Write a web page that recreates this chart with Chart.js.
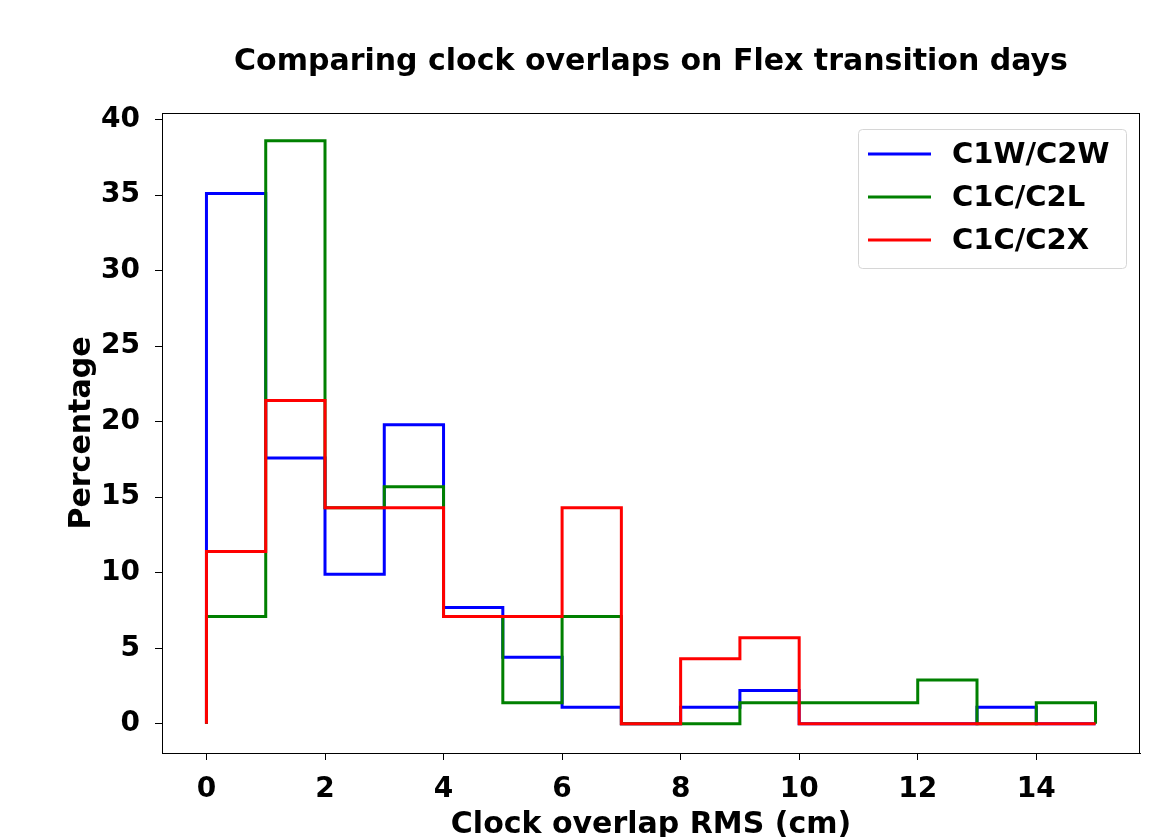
<!DOCTYPE html>
<html lang="en">
<head>
    <meta charset="UTF-8">
    <title>Clock overlaps</title>
    <script src="https://cdn.jsdelivr.net/npm/chart.js"></script>
    <style>
        html, body { margin: 0; padding: 0; background: #fff; }
        #wrap { width: 1170px; height: 837px; }
    </style>
</head>
<body>
    <div id="wrap"><canvas id="histChart" width="1170" height="837"></canvas></div>
    <script>
        // histogram bins (cm), 1 cm wide
        const binEdges = [0, 1, 2, 3, 4, 5, 6, 7, 8, 9, 10, 11, 12, 13, 14, 15];
        // percentage per bin
        const c1wC2w = [35.1, 17.6, 9.9, 19.8, 7.7, 4.4, 1.1, 0, 1.1, 2.2, 0, 0, 0, 1.1, 0];
        const c1cC2l = [7.1, 38.6, 14.3, 15.7, 7.1, 1.4, 7.1, 0, 0, 1.4, 1.4, 1.4, 2.9, 0, 1.4];
        const c1cC2x = [11.4, 21.4, 14.3, 14.3, 7.1, 7.1, 14.3, 0, 4.3, 5.7, 0, 0, 0, 0, 0];
        const seriesLabels = ['C1W/C2W', 'C1C/C2L', 'C1C/C2X'];
        const seriesColors = ['#0000ff', '#008000', '#ff0000'];
        const xTicks = [0, 2, 4, 6, 8, 10, 12, 14];
        const yTicks = [0, 5, 10, 15, 20, 25, 30, 35, 40];

        const FONT = "'DejaVu Sans', 'Liberation Sans', sans-serif";

        // turn bin heights into a step outline like matplotlib histtype='step'
        function stepPoints(vals) {
            const pts = [{x: binEdges[0], y: 0}];
            vals.forEach((v, i) => pts.push({x: binEdges[i], y: v}));
            pts.push({x: binEdges[binEdges.length - 1], y: 0});
            return pts;
        }

        const frame = {
            id: 'frame',
            afterDatasetsDraw(chart) {
                const {ctx, chartArea: a} = chart;
                ctx.save();
                ctx.strokeStyle = '#000';
                ctx.lineWidth = 1;
                ctx.strokeRect(a.left + 0.5, a.top + 0.5, a.right - a.left - 1, a.bottom - a.top);
                ctx.restore();
            }
        };

        const boxLegend = {
            id: 'boxLegend',
            afterDraw(chart) {
                const {ctx, chartArea: a} = chart;
                const w = 268, h = 139;
                const x0 = a.right - 14 - w, y0 = a.top + 16;
                ctx.save();
                ctx.fillStyle = 'rgba(255,255,255,0.8)';
                ctx.strokeStyle = '#d6d6d6';
                ctx.lineWidth = 1;
                ctx.beginPath();
                ctx.roundRect(x0 + 0.5, y0 + 0.5, w, h, 4);
                ctx.fill();
                ctx.stroke();
                ctx.font = 'bold 29px ' + FONT;
                ctx.textBaseline = 'middle';
                ctx.textAlign = 'left';
                seriesLabels.forEach((lab, i) => {
                    const cy = y0 + 25 + i * 43;
                    ctx.strokeStyle = seriesColors[i];
                    ctx.lineWidth = 3;
                    ctx.beginPath();
                    ctx.moveTo(x0 + 10, cy);
                    ctx.lineTo(x0 + 73, cy);
                    ctx.stroke();
                    ctx.fillStyle = '#000';
                    ctx.fillText(lab, x0 + 94, cy + 1);
                });
                ctx.restore();
            }
        };

        const allSeries = [c1wC2w, c1cC2l, c1cC2x];
        const ctx = document.getElementById('histChart').getContext('2d');
        new Chart(ctx, {
            type: 'line',
            data: {
                datasets: allSeries.map((vals, i) => ({
                    label: seriesLabels[i],
                    data: stepPoints(vals),
                    stepped: 'before',
                    borderColor: seriesColors[i],
                    borderWidth: 3,
                    borderJoinStyle: 'miter',
                    pointRadius: 0,
                    fill: false,
                    order: allSeries.length - i
                }))
            },
            options: {
                responsive: false,
                animation: false,
                layout: { padding: { left: 0, right: 30, top: 0, bottom: 0 } },
                plugins: {
                    legend: { display: false },
                    tooltip: { enabled: false },
                    title: {
                        display: true,
                        fullSize: false,
                        text: 'Comparing clock overlaps on Flex transition days',
                        color: '#000',
                        font: { family: FONT, size: 30, weight: 'bold', lineHeight: 1.2 },
                        padding: { top: 44, bottom: 33 }
                    }
                },
                scales: {
                    x: {
                        type: 'linear',
                        min: -0.75,
                        max: 15.75,
                        afterFit(s) { s.height = 84; },
                        afterBuildTicks(s) { s.ticks = xTicks.map(v => ({value: v})); },
                        grid: { display: true, drawOnChartArea: false, drawTicks: true, tickLength: 7, color: '#000' },
                        border: { display: true, color: '#000', width: 1 },
                        ticks: { color: '#000', padding: 13, maxRotation: 0, font: { family: FONT, size: 28, weight: 'bold' } },
                        title: {
                            display: true,
                            text: 'Clock overlap RMS (cm)',
                            color: '#000',
                            font: { family: FONT, size: 30, weight: 'bold', lineHeight: 1 },
                            padding: { top: 0, bottom: -3 }
                        }
                    },
                    y: {
                        type: 'linear',
                        min: -1.93,
                        max: 40.43,
                        afterFit(s) { s.width = 162; },
                        afterBuildTicks(s) { s.ticks = yTicks.map(v => ({value: v})); },
                        grid: { display: true, drawOnChartArea: false, drawTicks: true, tickLength: 7, color: '#000' },
                        border: { display: true, color: '#000', width: 1 },
                        ticks: { color: '#000', padding: 15, font: { family: FONT, size: 28, weight: 'bold' } },
                        title: {
                            display: true,
                            text: 'Percentage',
                            color: '#000',
                            font: { family: FONT, size: 30, weight: 'bold', lineHeight: 1.2 },
                            padding: { top: 64, bottom: 0 }
                        }
                    }
                }
            },
            plugins: [frame, boxLegend]
        });
    </script>
</body>
</html>
